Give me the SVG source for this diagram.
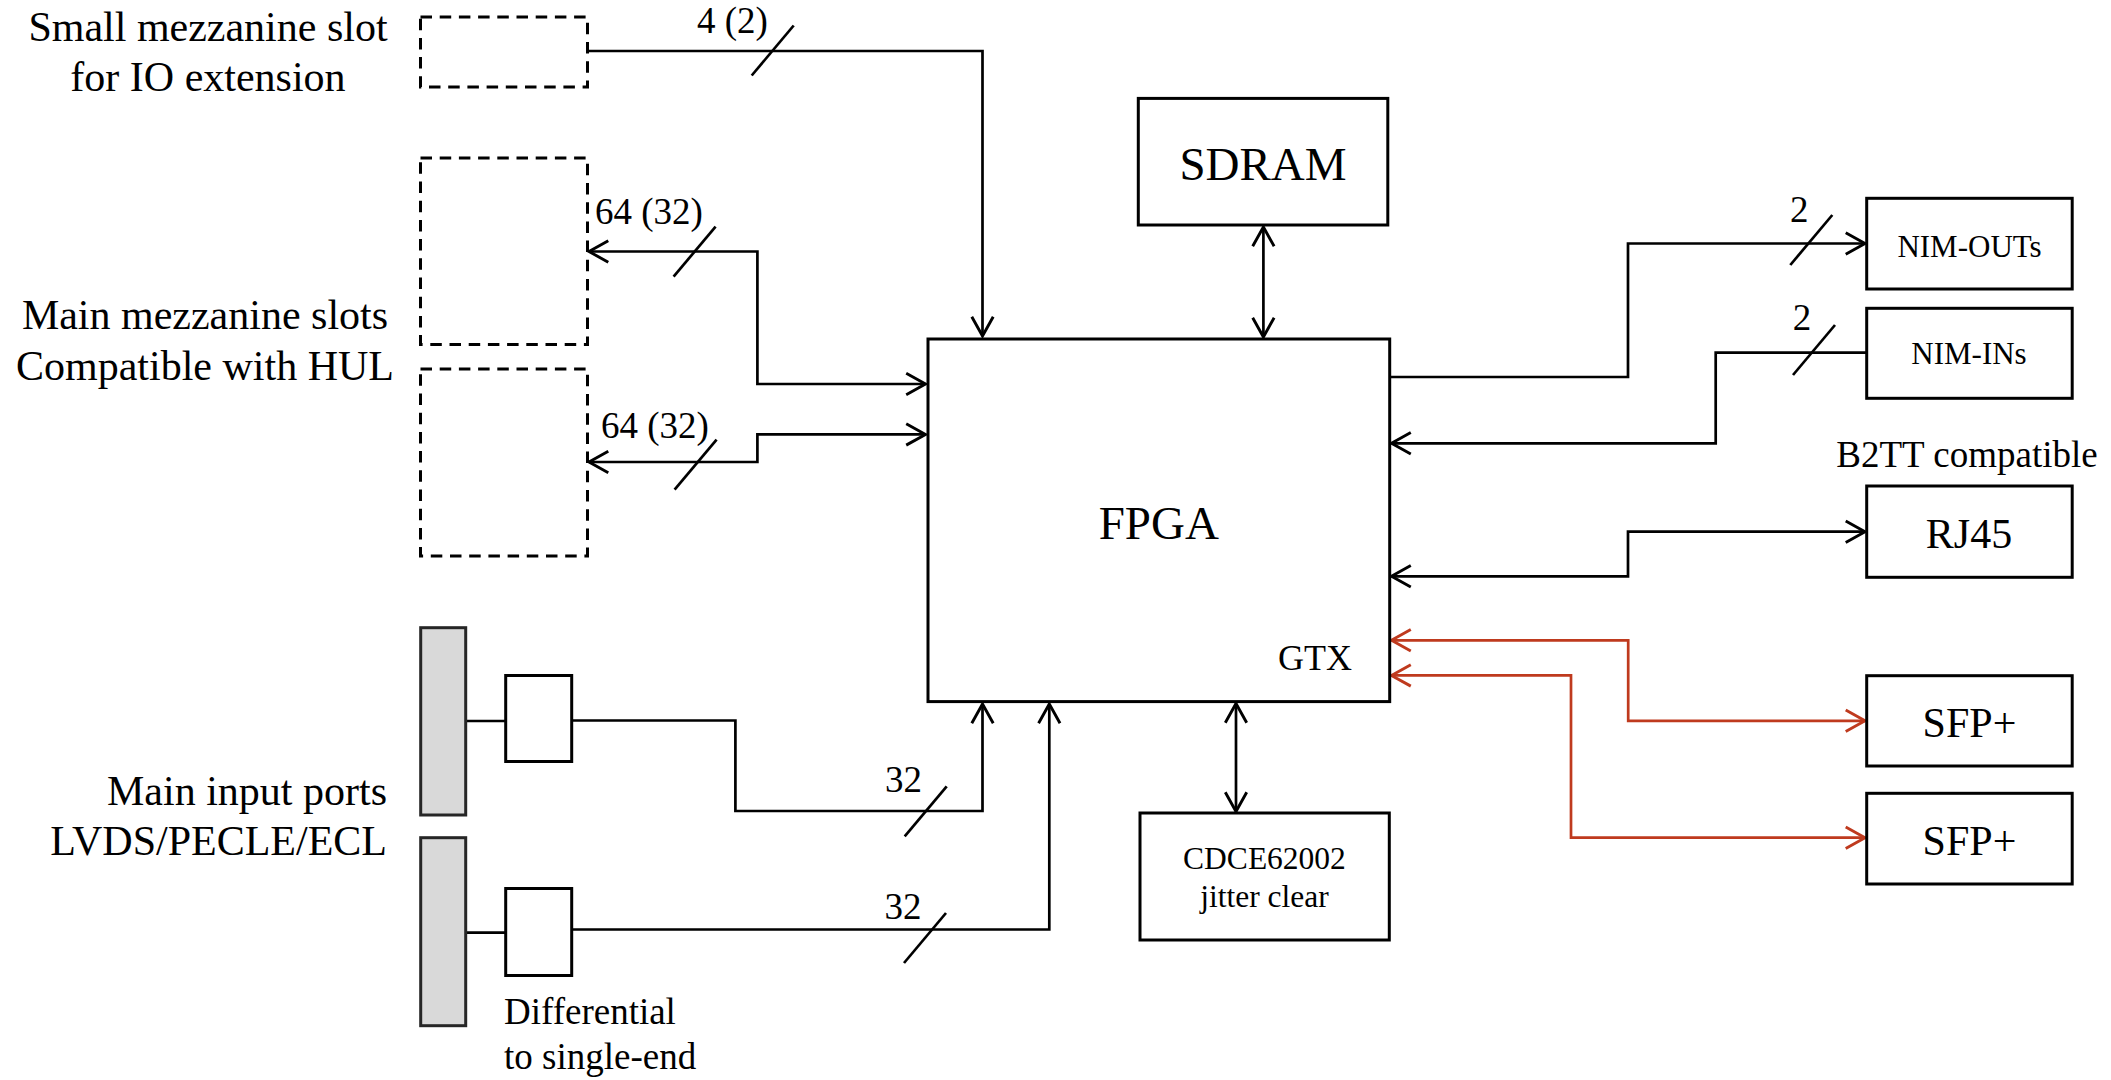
<svg xmlns="http://www.w3.org/2000/svg" xmlns:xlink="http://www.w3.org/1999/xlink" width="2111" height="1080" viewBox="0 0 2111 1080">
<style>
text{font-family:"Liberation Serif","Times New Roman",serif;fill:#000}
.box{fill:#fff;stroke:#000;stroke-width:3}
.dash{fill:none;stroke:#000;stroke-width:3;stroke-dasharray:11.5 7.7}
.bar{fill:#d9d9d9;stroke:#262626;stroke-width:3}
.ln{fill:none;stroke:#000;stroke-width:2.7}
.red{fill:none;stroke:#bf3a1e;stroke-width:2.7}
.sl{fill:none;stroke:#000;stroke-width:2.7}
.big{font-size:42px}
.lbl{font-size:37px}
.mid{text-anchor:middle}
</style>
<defs>
<marker id="ah" markerUnits="userSpaceOnUse" markerWidth="30" markerHeight="30" viewBox="-22 -14 26 28" refX="0" refY="0" orient="auto-start-reverse">
<path d="M-18,-10 L0,0 L-18,10" fill="none" stroke="#000" stroke-width="2.7"/>
</marker>
<marker id="ahr" markerUnits="userSpaceOnUse" markerWidth="30" markerHeight="30" viewBox="-22 -14 26 28" refX="0" refY="0" orient="auto-start-reverse">
<path d="M-18,-10 L0,0 L-18,10" fill="none" stroke="#bf3a1e" stroke-width="2.7"/>
</marker>
<path id="slash" d="M-21,25 L21,-25" class="sl"/>
</defs>

<g id="connectors">
<path class="ln" d="M587.5,51 H982.5 V336" marker-end="url(#ah)"/>
<path class="ln" d="M589,251.5 H757.4 V384 H925.5" marker-start="url(#ah)" marker-end="url(#ah)"/>
<path class="ln" d="M589,462 H757.4 V434.4 H925.5" marker-start="url(#ah)" marker-end="url(#ah)"/>
<path class="ln" d="M1263.4,227 V337" marker-start="url(#ah)" marker-end="url(#ah)"/>
<path class="ln" d="M1389.7,377 H1628 V243.5 H1865" marker-end="url(#ah)"/>
<path class="ln" d="M1866.7,352.7 H1715.7 V443.3 H1391.5" marker-end="url(#ah)"/>
<path class="ln" d="M1391.5,576.3 H1628 V531.7 H1865" marker-start="url(#ah)" marker-end="url(#ah)"/>
<path class="red" d="M1391.5,640.3 H1628.2 V720.8 H1865" marker-start="url(#ahr)" marker-end="url(#ahr)"/>
<path class="red" d="M1391.5,675.4 H1571 V837.7 H1865" marker-start="url(#ahr)" marker-end="url(#ahr)"/>
<path class="ln" d="M1236,703.5 V811.5" marker-start="url(#ah)" marker-end="url(#ah)"/>
<path class="ln" d="M571.8,720.5 H735.4 V811 H982.5 V704" marker-end="url(#ah)"/>
<path class="ln" d="M571.8,929.5 H1049.3 V704" marker-end="url(#ah)"/>
<path class="ln" d="M465.7,721 H505.7 M465.7,932.7 H505.7"/>
<use xlink:href="#slash" x="772.7" y="50.5"/>
<use xlink:href="#slash" x="694.6" y="251.6"/>
<use xlink:href="#slash" x="695.6" y="464.6"/>
<use xlink:href="#slash" x="925.7" y="811.3"/>
<use xlink:href="#slash" x="925" y="938"/>
<use xlink:href="#slash" x="1811.3" y="240"/>
<use xlink:href="#slash" x="1814" y="350"/>
<text class="lbl" x="697" y="32.5">4 (2)</text>
<text class="lbl" x="595" y="224">64 (32)</text>
<text class="lbl" x="601" y="437.5">64 (32)</text>
<text class="lbl" x="885" y="792">32</text>
<text class="lbl" x="884.5" y="919">32</text>
<text class="lbl" x="1790" y="221.7">2</text>
<text class="lbl" x="1792.7" y="330">2</text>
</g>

<g id="small-mezzanine">
<rect class="dash" x="420.5" y="17" width="167" height="70"/>
<text class="big mid" x="208" y="41">Small mezzanine slot</text>
<text class="big mid" x="208" y="91">for IO extension</text>
</g>
<g id="main-mezzanine-1">
<rect class="dash" x="420.5" y="158" width="167" height="186.5"/>
</g>
<g id="main-mezzanine-2">
<rect class="dash" x="420.5" y="369" width="167" height="187"/>
</g>
<g id="main-mezzanine-label">
<text class="big mid" x="205" y="329">Main mezzanine slots</text>
<text class="big mid" x="205" y="380">Compatible with HUL</text>
</g>

<g id="fpga">
<rect class="box" x="928" y="339" width="461.7" height="362.6"/>
<text class="mid" x="1158.8" y="539" font-size="47">FPGA</text>
<text x="1352" y="669.5" font-size="36" text-anchor="end">GTX</text>
</g>
<g id="sdram">
<rect class="box" x="1138.3" y="98.4" width="249.5" height="126.6"/>
<text class="mid" x="1263" y="180" font-size="47">SDRAM</text>
</g>
<g id="cdce">
<rect class="box" x="1140" y="813" width="249.3" height="127"/>
<text class="mid" x="1264.5" y="868.5" font-size="31.5">CDCE62002</text>
<text class="mid" x="1264.5" y="906.5" font-size="31.5">jitter clear</text>
</g>
<g id="nim-outs">
<rect class="box" x="1866.7" y="198.3" width="205.5" height="90.7"/>
<text class="mid" x="1969.5" y="256.7" font-size="31">NIM-OUTs</text>
</g>
<g id="nim-ins">
<rect class="box" x="1866.7" y="308.3" width="205.5" height="90"/>
<text class="mid" x="1969" y="364" font-size="31">NIM-INs</text>
</g>
<g id="rj45">
<text class="lbl mid" x="1967" y="467">B2TT compatible</text>
<rect class="box" x="1866.7" y="486" width="205.5" height="91.3"/>
<text class="big mid" x="1969" y="548.3">RJ45</text>
</g>
<g id="sfp1">
<rect class="box" x="1866.7" y="675.7" width="205.5" height="90.3"/>
<text class="big mid" x="1969.5" y="736.7">SFP+</text>
</g>
<g id="sfp2">
<rect class="box" x="1866.7" y="793.3" width="205.5" height="90.7"/>
<text class="big mid" x="1969.5" y="855">SFP+</text>
</g>

<g id="input-port-1">
<rect class="bar" x="420.7" y="627.7" width="45" height="187.3"/>
</g>
<g id="input-port-2">
<rect class="bar" x="420.7" y="837.7" width="45" height="188"/>
</g>
<g id="input-label">
<text class="big" x="387" y="805" text-anchor="end">Main input ports</text>
<text class="big" x="387" y="855" text-anchor="end">LVDS/PECLE/ECL</text>
</g>
<g id="diff-1">
<rect class="box" x="505.7" y="675.5" width="66" height="86"/>
</g>
<g id="diff-2">
<rect class="box" x="505.7" y="888.5" width="66" height="87"/>
<text class="lbl" x="504" y="1024">Differential</text>
<text class="lbl" x="504" y="1069">to single-end</text>
</g>
</svg>
